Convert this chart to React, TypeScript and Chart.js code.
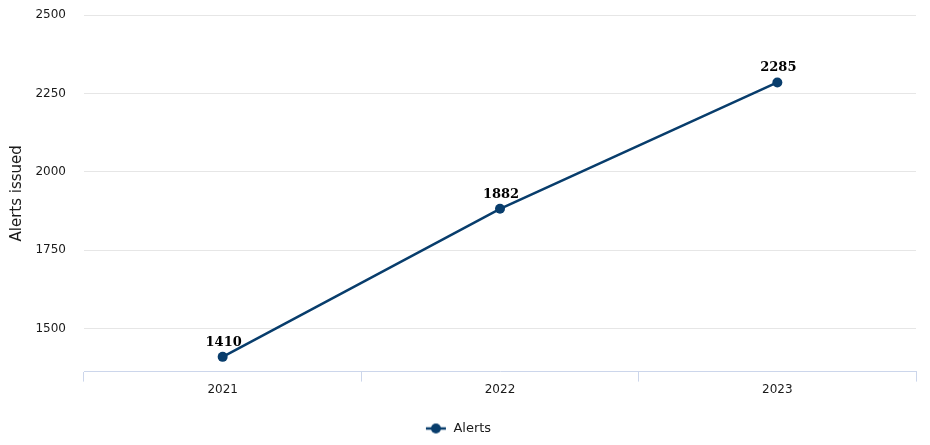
import React, { useEffect, useRef } from "react";
import { Chart, registerables } from "chart.js";

Chart.register(...registerables);

const categories = ["2021", "2022", "2023"];
const alerts = [1410, 1882, 2285];
const yTicks = [1500, 1750, 2000, 2250, 2500];
const seriesName = "Alerts";
const yTitle = "Alerts issued";

const LINE_COLOR = "#083d6c";
const TEXT_COLOR = "#1a1a1a";

function makeLegendMarker(): HTMLCanvasElement {
  const c = document.createElement("canvas");
  c.width = 22;
  c.height = 12;
  const ctx = c.getContext("2d")!;
  ctx.strokeStyle = LINE_COLOR;
  ctx.lineWidth = 2.5;
  ctx.beginPath();
  ctx.moveTo(1, 6);
  ctx.lineTo(21, 6);
  ctx.stroke();
  ctx.fillStyle = LINE_COLOR;
  ctx.beginPath();
  ctx.arc(11, 6, 5, 0, Math.PI * 2);
  ctx.fill();
  return c;
}

const dataLabelPlugin = {
  id: "dataLabels",
  afterDatasetsDraw(chart: any) {
    const ctx = chart.ctx;
    const meta = chart.getDatasetMeta(0);
    ctx.save();
    ctx.font = "bold 13px 'DejaVu Serif'";
    ctx.fillStyle = "#000";
    ctx.textAlign = "center";
    ctx.textBaseline = "bottom";
    meta.data.forEach((pt: any, i: number) => {
      ctx.fillText(String(chart.data.datasets[0].data[i]), pt.x + 1, pt.y - 8);
    });
    ctx.restore();
  },
};

export default function App() {
  const ref = useRef<HTMLCanvasElement>(null);
  useEffect(() => {
    document.body.style.margin = "0";
    const marker = makeLegendMarker();
    const chart = new Chart(ref.current!, {
      type: "line",
      data: {
        labels: categories,
        datasets: [
          {
            label: seriesName,
            data: alerts,
            borderColor: LINE_COLOR,
            backgroundColor: LINE_COLOR,
            borderWidth: 2.5,
            pointRadius: 5,
            pointHoverRadius: 5,
            pointBackgroundColor: LINE_COLOR,
            pointBorderWidth: 0,
            pointStyle: "circle",
            tension: 0,
          },
        ],
      },
      options: {
        responsive: false,
        animation: false,
        layout: { padding: { left: 0, right: 14, top: 15, bottom: 0 } },
        plugins: {
          legend: {
            position: "bottom",
            labels: {
              usePointStyle: true,
              pointStyle: marker as any,
              pointStyleWidth: 22,
              color: TEXT_COLOR,
              font: { family: "DejaVu Sans", size: 13 },
              padding: 10,
            },
          },
          tooltip: { enabled: false },
        },
        scales: {
          x: {
            type: "category",
            offset: true,
            afterFit(scale: any) {
              scale.height += 14;
            },
            grid: {
              offset: true,
              drawOnChartArea: false,
              drawTicks: true,
              tickLength: 10,
              color: "#ccd6eb",
            },
            border: { display: true, color: "#ccd6eb", width: 1 },
            ticks: {
              color: TEXT_COLOR,
              font: { family: "DejaVu Sans", size: 12 },
              padding: 1,
              maxRotation: 0,
            },
          },
          y: {
            min: 1363,
            max: 2500,
            afterBuildTicks(scale: any) {
              scale.ticks = yTicks.map((v) => ({ value: v }));
            },
            afterFit(scale: any) {
              scale.width = 84;
              scale.paddingTop = 0;
              scale.paddingBottom = 0;
            },
            grid: { color: "#e6e6e6", drawTicks: false },
            border: { display: false },
            ticks: {
              color: TEXT_COLOR,
              font: { family: "DejaVu Sans", size: 12 },
              padding: 18,
              callback: (v: any) => String(v),
            },
            title: {
              display: true,
              text: yTitle,
              color: TEXT_COLOR,
              font: { family: "DejaVu Sans", size: 15 },
              padding: { top: 8, bottom: 0 },
            },
          },
        },
      },
      plugins: [dataLabelPlugin],
    });
    return () => chart.destroy();
  }, []);
  return (
    <div style={{ width: 930, height: 445, background: "#fff" }}>
      <canvas ref={ref} width={930} height={445} />
    </div>
  );
}
